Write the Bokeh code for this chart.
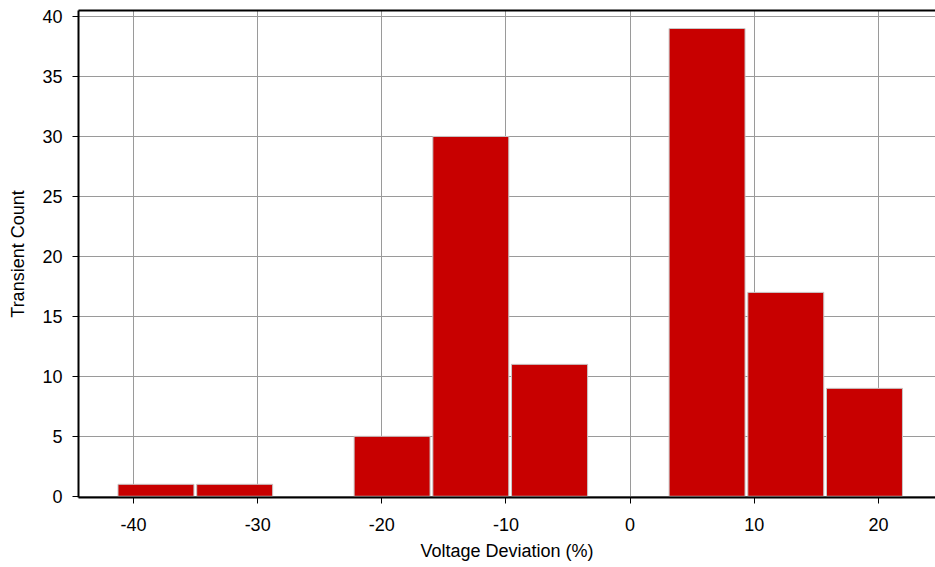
from bokeh.plotting import figure
from bokeh.models import LinearAxis, FixedTicker, Range1d, ColumnDataSource, CustomJSTickFormatter
from bokeh.embed import file_html
from bokeh.resources import INLINE

# Histogram of voltage transients: bin edges (%) and counts per bin
bin_edges = [-41.36, -35.02, -28.68, -22.34, -16.0, -9.66, -3.31, 3.03, 9.37, 15.71, 22.05]
counts = [1, 1, 0, 5, 30, 11, 0, 39, 17, 9]
x_ticks = [-40, -30, -20, -10, 0, 10, 20]
y_ticks = [0, 5, 10, 15, 20, 25, 30, 35, 40]

FONT = "Liberation Sans"
BAR_FILL = 0.965  # fraction of each bin covered by its bar

lefts, rights, tops = [], [], []
for i, c in enumerate(counts):
    if c <= 0:
        continue
    lo, hi = bin_edges[i], bin_edges[i + 1]
    pad = (hi - lo) * (1 - BAR_FILL) / 2
    lefts.append(lo + pad)
    rights.append(hi - pad)
    tops.append(c)
src = ColumnDataSource(dict(left=lefts, right=rights, top=tops, bottom=[0] * len(tops)))

p = figure(width=935, height=567, output_backend="svg", toolbar_location=None,
           x_range=Range1d(-44.43, 24.6), y_range=Range1d(-0.1, 40.5),
           min_border_left=78, min_border_right=0, min_border_top=10, min_border_bottom=70,
           background_fill_color="white", border_fill_color="white")
p.outline_line_color = None

p.quad(left="left", right="right", top="top", bottom="bottom", source=src,
       fill_color="#c80000", line_color="#c8c8c8", line_width=1)

# plain hyphen for negative tick values
plain = CustomJSTickFormatter(code="return String(tick);")

p.xaxis.ticker = FixedTicker(ticks=x_ticks)
p.yaxis.ticker = FixedTicker(ticks=y_ticks)
p.xaxis.formatter = plain
p.xgrid.ticker = FixedTicker(ticks=x_ticks)
p.ygrid.ticker = FixedTicker(ticks=y_ticks)
for g in (p.xgrid, p.ygrid):
    g.grid_line_color = "#9a9a9a"
    g.grid_line_width = 1

p.xaxis.axis_label = "Voltage Deviation (%)"
p.yaxis.axis_label = "Transient Count"

for ax in (p.xaxis, p.yaxis):
    ax.axis_line_color = "black"
    ax.axis_line_width = 2
    ax.major_tick_line_color = "black"
    ax.major_tick_line_width = 1
    ax.major_tick_out = 6
    ax.major_tick_in = 0
    ax.minor_tick_line_color = None
    ax.major_label_text_font = FONT
    ax.major_label_text_font_size = "18px"
    ax.major_label_text_color = "black"
    ax.axis_label_text_font = FONT
    ax.axis_label_text_font_size = "18px"
    ax.axis_label_text_font_style = "normal"
    ax.axis_label_text_color = "black"

p.yaxis.major_label_standoff = 10
p.yaxis.axis_label_standoff = 11
p.xaxis.major_label_standoff = 14
p.xaxis.axis_label_standoff = 7

# Heavy rule along the top of the plot area
top_rule = LinearAxis(ticker=FixedTicker(ticks=[]), axis_line_color="black",
                      axis_line_width=2, major_label_text_font_size="0px",
                      major_tick_line_color=None, minor_tick_line_color=None)
p.add_layout(top_rule, "above")

open("out.html", "w").write(file_html(p, INLINE))
